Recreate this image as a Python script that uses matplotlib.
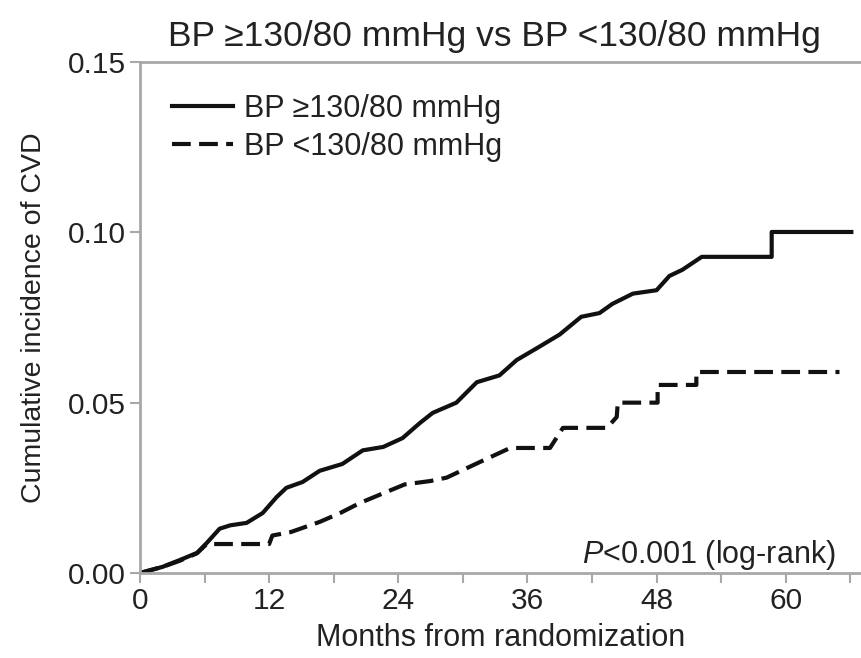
import numpy as np
import matplotlib
matplotlib.use("Agg")
import matplotlib.pyplot as plt
from matplotlib.ticker import MultipleLocator

# cumulative incidence (months, incidence)
high_months = [0, 2.1, 3.7, 5.3, 6.2, 7.4, 8.4, 9.9, 11.4, 12.7, 13.6, 15.1, 16.7,
               18.8, 20.7, 22.6, 24.4, 26.0, 27.2, 29.4, 31.3, 33.4, 35.0, 37.1,
               39.0, 41.0, 42.7, 43.9, 45.8, 48.0, 49.2, 50.4, 52.2, 58.7, 58.7, 66.1]
high_cvd = [0, 0.0018, 0.0038, 0.0059, 0.0088, 0.013, 0.014, 0.0147, 0.0176, 0.0223,
            0.025, 0.0267, 0.030, 0.032, 0.036, 0.037, 0.0396, 0.044, 0.047, 0.050,
            0.056, 0.058, 0.0625, 0.0664, 0.070, 0.0752, 0.0763, 0.079, 0.082, 0.083,
            0.0872, 0.089, 0.0928, 0.0928, 0.1001, 0.1001]

low_months = [0, 2.1, 3.7, 5.3, 6.2, 12.0, 12.3, 14.0, 14.9, 16.7, 18.6, 20.4, 22.3,
              24.6, 27.0, 28.5, 31.6, 34.4, 38.1, 39.3, 43.4, 44.3, 44.4, 48.1, 48.1,
              51.7, 51.7, 65.0]
low_cvd = [0, 0.0018, 0.0036, 0.0058, 0.0085, 0.0085, 0.011, 0.012, 0.013, 0.015,
           0.0176, 0.0205, 0.023, 0.026, 0.027, 0.028, 0.0326, 0.0367, 0.0367, 0.0426,
           0.0426, 0.0458, 0.050, 0.050, 0.0552, 0.0552, 0.059, 0.059]

labels = ["BP \u2265130/80 mmHg", "BP <130/80 mmHg"]

plt.rcParams['font.family'] = ['Liberation Sans', 'DejaVu Sans']
plt.rcParams['mathtext.fontset'] = 'custom'
plt.rcParams['mathtext.it'] = 'Liberation Sans:italic'
plt.rcParams['mathtext.rm'] = 'Liberation Sans'

txt = '#222222'
spine = '#a8a8a8'
fs = 22

fig = plt.figure(figsize=(8.61, 6.58), dpi=100)
ax = fig.add_axes([0.1626, 0.1292, 0.8374, 0.7766])

ax.plot(high_months, high_cvd, color='#111111', lw=3, label=labels[0])
ax.plot(low_months, low_cvd, color='#111111', lw=3, dash_capstyle='butt',
        linestyle=(0, (4.5, 2)), label=labels[1])

ax.set_xlim(0, 67)
ax.set_ylim(0, 0.15)
ax.xaxis.set_major_locator(MultipleLocator(12))
ax.xaxis.set_minor_locator(MultipleLocator(6))
ax.set_yticks([0, 0.05, 0.10, 0.15])
ax.set_yticklabels(["0.00", "0.05", "0.10", "0.15"])

for s in ['left', 'bottom', 'top']:
    ax.spines[s].set_color(spine)
    ax.spines[s].set_linewidth(2)
ax.spines['right'].set_visible(False)
ax.tick_params(which='both', color=spine, width=1.5, length=7, labelsize=21.5,
               labelcolor=txt, pad=3)
ax.tick_params(axis='x', which='both', top=False)

ax.set_xlabel("Months from randomization", fontsize=fs, color=txt, labelpad=6)
ax.set_ylabel("Cumulative incidence of CVD", fontsize=20.5, color=txt, labelpad=15)
fig.text(0.574, 0.945, "BP \u2265130/80 mmHg vs BP <130/80 mmHg", fontsize=25.5,
         color=txt, ha='center', va='center')

ax.text(0.965, 0.036, r"$\it{P}$<0.001 (log-rank)", transform=ax.transAxes,
        fontsize=fs, color=txt, ha='right', va='center')

leg = ax.legend(loc='upper left', bbox_to_anchor=(0.044, 0.937), frameon=False,
                fontsize=fs, handlelength=2.0, handletextpad=0.36, labelspacing=0.25,
                borderpad=0, borderaxespad=0, labelcolor=txt)

fig.savefig("out.png", dpi=100)
